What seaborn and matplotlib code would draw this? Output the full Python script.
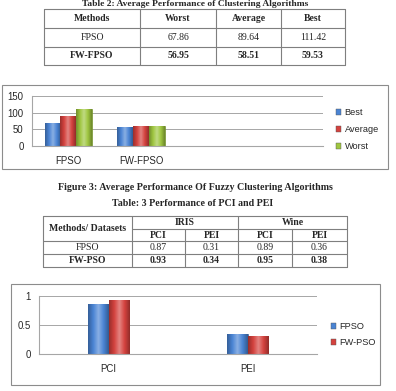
import matplotlib
matplotlib.use("Agg")
import matplotlib.pyplot as plt
from matplotlib.patches import Rectangle
from matplotlib.lines import Line2D
from matplotlib.colors import LinearSegmentedColormap, to_hex, to_rgb
import numpy as np
import seaborn as sns
import pandas as pd

# ---------------- data ----------------
t2_title = "Table 2: Average Performance of Clustering Algorithms"
t2_header = ["Methods", "Worst", "Average", "Best"]
t2_methods = ["FPSO", "FW-FPSO"]
t2_worst = ["67.86", "56.95"]
t2_average = ["89.64", "58.51"]
t2_best = ["111.42", "59.53"]

fig3_methods = ["FPSO", "FW-FPSO"]
fig3_series = ["Best", "Average", "Worst"]
fig3_best = [67.86, 56.95]
fig3_average = [89.64, 58.51]
fig3_worst = [111.42, 59.53]
fig3_caption = "Figure 3: Average Performance Of Fuzzy Clustering Algorithms"

t3_title = "Table: 3 Performance of PCI and PEI"
t3_corner = "Methods/ Datasets"
t3_datasets = ["IRIS", "Wine"]
t3_metrics = ["PCI", "PEI", "PCI", "PEI"]
t3_methods = ["FPSO", "FW-PSO"]
t3_fpso = ["0.87", "0.31", "0.89", "0.36"]
t3_fwpso = ["0.93", "0.34", "0.95", "0.38"]

fig4_metrics = ["PCI", "PEI"]
fig4_series = ["FPSO", "FW-PSO"]
fig4_fpso = [0.87, 0.34]
fig4_fwpso = [0.93, 0.31]

# ---------------- setup ----------------
W, H = 396, 391
sns.set_style("white")
plt.rcParams["font.family"] = ["Liberation Sans", "DejaVu Sans"]
fig = plt.figure(figsize=(W / 100, H / 100), dpi=100)
fig.patch.set_facecolor("white")

SERIF = ["Liberation Serif", "DejaVu Serif"]
GRID = "#a6a6a6"
BORDER = "#8c8c8c"
TICK_FS = 6.9
LEG_FS = 6.6


def fx(x):
    return x / W


def fy(y):
    return 1 - y / H


def hline(x0, x1, y, color="#7f7f7f", lw=0.8):
    fig.add_artist(Line2D([fx(x0), fx(x1)], [fy(y), fy(y)], transform=fig.transFigure,
                          color=color, lw=lw))


def vline(x, y0, y1, color="#7f7f7f", lw=0.8):
    fig.add_artist(Line2D([fx(x), fx(x)], [fy(y0), fy(y1)], transform=fig.transFigure,
                          color=color, lw=lw))


def txt(x, y, s, bold=False, size=7, family=None):
    fig.text(fx(x), fy(y), s, ha="center", va="center", fontsize=size,
             fontweight="bold" if bold else "normal", family=family or SERIF)


def frame(x0, y0, x1, y1):
    fig.add_artist(Rectangle((fx(x0), fy(y1)), fx(x1) - fx(x0), fy(y0) - fy(y1),
                             transform=fig.transFigure, fill=False,
                             edgecolor=BORDER, lw=0.8))


# ---------------- Table 2 ----------------
txt(195, 3.5, t2_title, bold=True, size=6.8)
cols = [44, 140, 216, 281, 345]
rows = [9, 28, 47, 65]
for y in rows:
    hline(cols[0], cols[-1], y)
for x in cols:
    vline(x, rows[0], rows[-1])
ccx = [(cols[i] + cols[i + 1]) / 2 for i in range(4)]
rcy = [(rows[i] + rows[i + 1]) / 2 for i in range(3)]
for i, h in enumerate(t2_header):
    txt(ccx[i], rcy[0], h, bold=True, size=7)
for r, m in enumerate(t2_methods):
    vals = [m, t2_worst[r], t2_average[r], t2_best[r]]
    for i, v in enumerate(vals):
        txt(ccx[i], rcy[r + 1], v, bold=(r == 1), size=7)


# ---------------- chart styling helpers ----------------
def style_axes(ax, ymax, yticks, ylabels, nslots):
    ax.set_ylim(0, ymax)
    ax.set_xlim(-0.5, nslots - 0.5)
    ax.set_yticks(yticks)
    ax.set_yticklabels(ylabels)
    ax.set_xlabel("")
    ax.set_ylabel("")
    ax.grid(axis="y", color=GRID, lw=0.7)
    ax.grid(axis="x", visible=False)
    ax.set_axisbelow(True)
    for s in ["top", "right"]:
        ax.spines[s].set_visible(False)
    for s in ["left", "bottom"]:
        ax.spines[s].set_color(GRID)
        ax.spines[s].set_linewidth(0.8)
    ax.tick_params(axis="y", length=3, width=0.7, color=GRID, labelsize=TICK_FS, pad=3)
    ax.tick_params(axis="x", which="major", length=0, labelsize=TICK_FS, pad=7.5)
    ax.set_xticks([i - 0.5 for i in range(nslots + 1)], minor=True)
    ax.tick_params(axis="x", which="minor", length=3, width=0.7, color=GRID)
    ax.patch.set_alpha(0)


def shade_bars(ax):
    """Excel-like cylinder shading: horizontal gradient clipped to each bar."""
    xl, yl = ax.get_xlim(), ax.get_ylim()
    for p in list(ax.patches):
        base = np.array(to_rgb(p.get_facecolor()))
        dark = base * 0.72
        light = base + (1 - base) * 0.35
        cmap = LinearSegmentedColormap.from_list(
            "g", [dark, base, light, base, dark * 0.95], N=64)
        x0, y0 = p.get_x(), p.get_y()
        w, h = p.get_width(), p.get_height()
        grad = np.linspace(0, 1, 64).reshape(1, -1)
        im = ax.imshow(grad, cmap=cmap, extent=[x0, x0 + w, y0, y0 + h],
                       aspect="auto", origin="lower", zorder=p.get_zorder() + 0.1,
                       interpolation="bilinear")
        im.set_clip_path(p)
        p.set_edgecolor(to_hex(base * 0.7))
        p.set_linewidth(0.5)
    ax.set_xlim(xl)
    ax.set_ylim(yl)


def style_legend(leg):
    for h in leg.legend_handles:
        h.set_edgecolor("#555555")
        h.set_linewidth(0.3)


# ---------------- Figure 3 chart ----------------
frame(2, 85, 388, 169)
ax1 = fig.add_axes([fx(32), fy(146), fx(323) - fx(32), fy(96) - fy(146)])
df1 = pd.DataFrame({
    "Method": fig3_methods * 3,
    "Series": [s for s in fig3_series for _ in fig3_methods],
    "Value": fig3_best + fig3_average + fig3_worst,
})
pal1 = {"Best": "#4a84d4", "Average": "#d4423e", "Worst": "#9fc640"}
sns.barplot(data=df1, x="Method", y="Value", hue="Series", hue_order=fig3_series,
            order=fig3_methods, palette=pal1, width=0.65, saturation=1, ax=ax1)
style_axes(ax1, 150, [0, 50, 100, 150], ["0", "50", "100", "150"], 4)
ax1.set_xticks([0, 1])
ax1.set_xticklabels(fig3_methods)
leg1 = ax1.legend(loc="upper left", bbox_to_anchor=(fx(336), fy(108)),
                  bbox_transform=fig.transFigure, frameon=False, fontsize=LEG_FS,
                  handlelength=0.55, handleheight=0.55, handletextpad=0.4,
                  labelspacing=0.88, borderpad=0, borderaxespad=0)
style_legend(leg1)
shade_bars(ax1)

txt(195, 187, fig3_caption, bold=True, size=7.2)

# ---------------- Table 3 ----------------
txt(193, 203, t3_title, bold=True, size=7.2)
L, R, T, B = 43, 347, 216, 267
c1, cmid, c_i, c_w = 132, 238, 185, 292
r1, r2, r3 = 229, 241, 254
hline(L, R, T)
hline(L, R, B)
hline(c1, R, r1)
hline(L, R, r2)
hline(L, R, r3)
vline(L, T, B)
vline(R, T, B)
vline(c1, T, B)
vline(cmid, T, B)
vline(c_i, r1, B)
vline(c_w, r1, B)
txt((L + c1) / 2, (T + r2) / 2, t3_corner, bold=True, size=7)
txt((c1 + cmid) / 2, (T + r1) / 2, t3_datasets[0], bold=True, size=7)
txt((cmid + R) / 2, (T + r1) / 2, t3_datasets[1], bold=True, size=7)
mcx = [(c1 + c_i) / 2, (c_i + cmid) / 2, (cmid + c_w) / 2, (c_w + R) / 2]
for i, m in enumerate(t3_metrics):
    txt(mcx[i], (r1 + r2) / 2, m, bold=True, size=7)
txt((L + c1) / 2, (r2 + r3) / 2, t3_methods[0], size=7)
txt((L + c1) / 2, (r3 + B) / 2, t3_methods[1], bold=True, size=7)
for i in range(4):
    txt(mcx[i], (r2 + r3) / 2, t3_fpso[i], size=7)
    txt(mcx[i], (r3 + B) / 2, t3_fwpso[i], bold=True, size=7)

# ---------------- PCI / PEI chart ----------------
frame(11, 284, 380, 385)
ax2 = fig.add_axes([fx(39), fy(354), fx(317) - fx(39), fy(296) - fy(354)])
df2 = pd.DataFrame({
    "Metric": fig4_metrics * 2,
    "Series": [s for s in fig4_series for _ in fig4_metrics],
    "Value": fig4_fpso + fig4_fwpso,
})
pal2 = {"FPSO": "#4a84d4", "FW-PSO": "#d4423e"}
sns.barplot(data=df2, x="Metric", y="Value", hue="Series", hue_order=fig4_series,
            order=fig4_metrics, palette=pal2, width=0.3, saturation=1, ax=ax2)
style_axes(ax2, 1, [0, 0.5, 1], ["0", "0.5", "1"], 2)
ax2.set_xticks([0, 1])
ax2.set_xticklabels(fig4_metrics)
leg2 = ax2.legend(loc="upper left", bbox_to_anchor=(fx(331), fy(322)),
                  bbox_transform=fig.transFigure, frameon=False, fontsize=LEG_FS,
                  handlelength=0.55, handleheight=0.55, handletextpad=0.4,
                  labelspacing=0.78, borderpad=0, borderaxespad=0)
style_legend(leg2)
shade_bars(ax2)

fig.savefig("out.png", dpi=100, facecolor="white")
